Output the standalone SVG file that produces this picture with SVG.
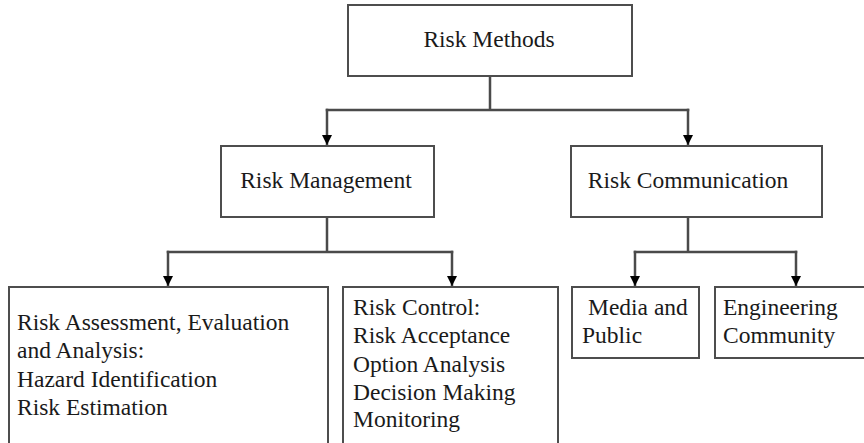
<svg xmlns="http://www.w3.org/2000/svg" width="864" height="443" viewBox="0 0 864 443">
  <style>
    .box { fill: #ffffff; stroke: #4d4d4d; stroke-width: 2; }
    .wire { fill: none; stroke: #4a4a4a; stroke-width: 2.5; stroke-linecap: square; }
  </style>
  <defs>
    <marker id="head" markerUnits="userSpaceOnUse" markerWidth="12" markerHeight="10" refX="10" refY="5" orient="auto">
      <path d="M0,0 L10,5 L0,10 Z" fill="#000"/>
    </marker>
  </defs>
  <rect width="864" height="443" fill="#ffffff"/>

  <g id="connectors">
    <path class="wire" d="M490,77 V110 M327,110 H688"/>
    <path class="wire" d="M327,110 V145" marker-end="url(#head)"/>
    <path class="wire" d="M688,110 V145" marker-end="url(#head)"/>
    <path class="wire" d="M327,218 V252 M168,252 H452"/>
    <path class="wire" d="M168,252 V286" marker-end="url(#head)"/>
    <path class="wire" d="M452,252 V286" marker-end="url(#head)"/>
    <path class="wire" d="M688,218 V252 M635,252 H796"/>
    <path class="wire" d="M635,252 V286" marker-end="url(#head)"/>
    <path class="wire" d="M796,252 V286" marker-end="url(#head)"/>
  </g>

  <g id="risk-methods">
    <rect class="box" x="348" y="5" width="284" height="71"/>
    <text x="489" y="47" font-family="Liberation Serif" font-size="23.5" fill="#1a1a1a" text-anchor="middle">Risk Methods</text>
  </g>

  <g id="risk-management">
    <rect class="box" x="221" y="146" width="213" height="71"/>
    <text x="326" y="188" font-family="Liberation Serif" font-size="23.5" fill="#1a1a1a" text-anchor="middle">Risk Management</text>
  </g>

  <g id="risk-communication">
    <rect class="box" x="571" y="146" width="251" height="71"/>
    <text x="688" y="188" font-family="Liberation Serif" font-size="23.5" fill="#1a1a1a" text-anchor="middle">Risk Communication</text>
  </g>

  <g id="risk-assessment">
    <rect class="box" x="9" y="287" width="319" height="180"/>
    <text x="17" y="330" font-family="Liberation Serif" font-size="23.5" fill="#1a1a1a">Risk Assessment, Evaluation</text>
    <text x="17" y="358" font-family="Liberation Serif" font-size="23.5" fill="#1a1a1a">and Analysis:</text>
    <text x="17" y="387" font-family="Liberation Serif" font-size="23.5" fill="#1a1a1a">Hazard Identification</text>
    <text x="17" y="415" font-family="Liberation Serif" font-size="23.5" fill="#1a1a1a">Risk Estimation</text>
  </g>

  <g id="risk-control">
    <rect class="box" x="343" y="287" width="215" height="180"/>
    <text x="353" y="315" font-family="Liberation Serif" font-size="23.5" fill="#1a1a1a">Risk Control:</text>
    <text x="353" y="343" font-family="Liberation Serif" font-size="23.5" fill="#1a1a1a">Risk Acceptance</text>
    <text x="353" y="372" font-family="Liberation Serif" font-size="23.5" fill="#1a1a1a">Option Analysis</text>
    <text x="353" y="400" font-family="Liberation Serif" font-size="23.5" fill="#1a1a1a">Decision Making</text>
    <text x="353" y="427" font-family="Liberation Serif" font-size="23.5" fill="#1a1a1a">Monitoring</text>
  </g>

  <g id="media-public">
    <rect class="box" x="572" y="287" width="127" height="71"/>
    <text x="588" y="315" font-family="Liberation Serif" font-size="23.5" fill="#1a1a1a">Media and</text>
    <text x="582" y="343" font-family="Liberation Serif" font-size="23.5" fill="#1a1a1a">Public</text>
  </g>

  <g id="engineering-community">
    <rect class="box" x="715" y="287" width="170" height="71"/>
    <text x="723" y="315" font-family="Liberation Serif" font-size="23.5" fill="#1a1a1a">Engineering</text>
    <text x="723" y="343" font-family="Liberation Serif" font-size="23.5" fill="#1a1a1a">Community</text>
  </g>
</svg>
